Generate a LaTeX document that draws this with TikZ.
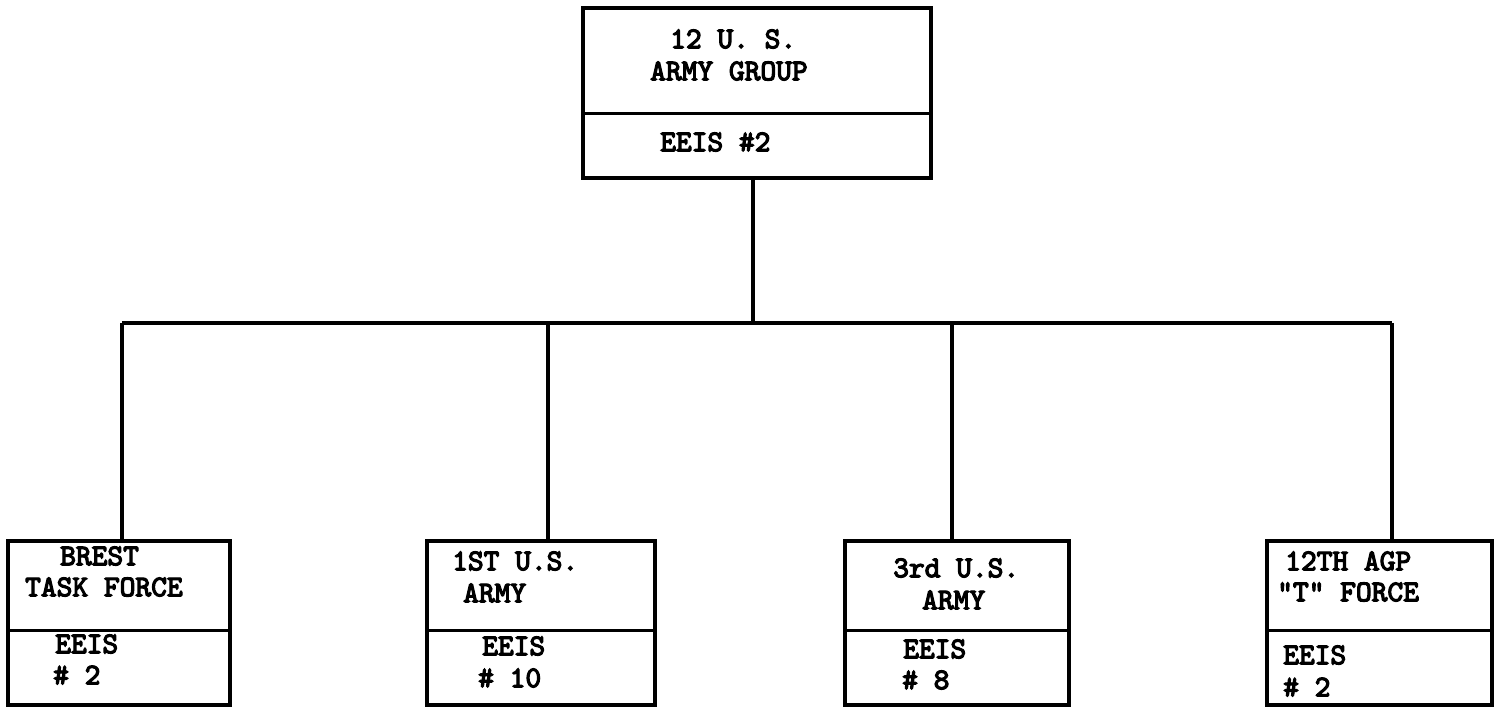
\documentclass[tikz,border=0pt]{standalone}
\usepackage{fontspec}
\newfontfamily\tw[FakeStretch=1.0, FakeBold=4]{lmmono10-regular.otf}
\begin{document}
\begin{tikzpicture}[x=1pt,y=-1pt,
  unit/.style={draw, line width=3.2pt, inner sep=0pt, outer sep=0pt},
  conn/.style={line width=3.4pt},
  divide/.style={line width=3pt},
  lbl/.style={anchor=west, inner sep=0pt, font=\tw\fontsize{30}{30}\selectfont}]
\useasboundingbox[fill=white] (0,0) rectangle (1501,717);
% boxes
\node[unit, minimum width=348pt, minimum height=170pt] (top) at (757,93) {};
\node[unit, minimum width=222pt, minimum height=164pt] (b1) at (119,623) {};
\node[unit, minimum width=228pt, minimum height=164pt] (b2) at (541,623) {};
\node[unit, minimum width=224pt, minimum height=164pt] (b3) at (957,623) {};
\node[unit, minimum width=225pt, minimum height=164pt] (b4) at (1379.5,623) {};
% dividers
\draw[divide] (top.west |- 0,113) -- (top.east |- 0,113);
\foreach \b in {b1,b2,b3,b4}
  \draw[divide] (\b.west |- 0,630) -- (\b.east |- 0,630);
% connectors
\coordinate (j) at (753,323);
\coordinate (bl) at (122,323);
\coordinate (br) at (1392,323);
\coordinate (d2) at (548,323);
\coordinate (d3) at (952,323);
\draw[conn] (top.south -| j) -- (j);
\draw[conn] (bl) -- (br);
\draw[conn] (bl) -- (bl |- b1.north);
\draw[conn] (d2) -- (d2 |- b2.north);
\draw[conn] (d3) -- (d3 |- b3.north);
\draw[conn] (br) -- (br |- b4.north);
% texts
\node[lbl] (t1) at (670,39) {12 U. S.};
\node[lbl] (t2) at (650,71) {ARMY GROUP};
\node[lbl] (t3) at (660,142) {EEIS \#2};
\node[lbl] (a1) at (60,556) {BREST};
\node[lbl] (a2) at (25,587) {TASK FORCE};
\node[lbl] (a3) at (55,644) {EEIS};
\node[lbl] (a4) at (53,675) {\# 2};
\node[lbl] (c1) at (452,561) {1ST U.S.};
\node[lbl] (c2) at (463,593) {ARMY};
\node[lbl] (c3) at (482,646) {EEIS};
\node[lbl] (c4) at (478,678) {\# 10};
\node[lbl] (e1) at (893,568) {3rd U.S.};
\node[lbl] (e2) at (922,600) {ARMY};
\node[lbl] (e3) at (903,649) {EEIS};
\node[lbl] (e4) at (902,680) {\# 8};
\node[lbl] (f1) at (1285,561) {12TH AGP};
\node[lbl] (f2) at (1277,592) {"T" FORCE};
\node[lbl] (f3) at (1283,655) {EEIS};
\node[lbl] (f4) at (1283,687) {\# 2};
\end{tikzpicture}
\end{document}
